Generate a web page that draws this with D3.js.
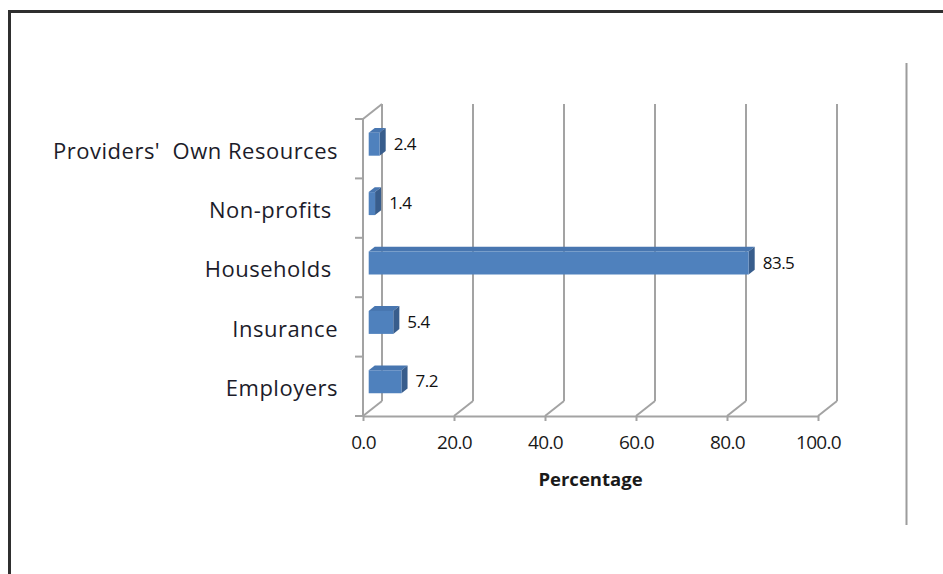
<!DOCTYPE html>
<html>
<head>
<meta charset="utf-8">
<script src="https://cdn.jsdelivr.net/npm/d3@7"></script>
<style>
  body { margin: 0; background: #fff; }
  svg { display: block; }
  text { font-family: "Open Sans", "DejaVu Sans", sans-serif; }
</style>
</head>
<body>
<svg id="chart" width="943" height="574"></svg>
<script>
// Funding sources, listed top to bottom
const categories = ["Providers'  Own Resources", "Non-profits ", "Households ", "Insurance", "Employers"];
const shares = [2.4, 1.4, 83.5, 5.4, 7.2];
const xTicks = [0, 20, 40, 60, 80, 100];
const xTitle = "Percentage";

const svg = d3.select("#chart");

// Plot box (front plane) and the oblique depth used for the 3-D look
const plotLeft = 363, plotRight = 818, plotTop = 119, plotFloor = 416;
const DX = 19, DY = 15;             // offset of the back plane
const zFront = 0.3, zBack = 0.62;   // depth slice occupied by the bars
const proj = (px, py, z) => [px + z * DX, py - z * DY];

const x = d3.scaleLinear().domain([0, 100]).range([plotLeft, plotRight]);
const y = d3.scaleBand().domain(categories).range([plotTop, plotFloor]).paddingInner(0).paddingOuter(0);

const gridColor = "#a3a3a3";

// Outer frame
svg.append("path")
  .attr("d", "M9.5,574 V11.5 H943")
  .attr("fill", "none").attr("stroke", "#2f2f2f").attr("stroke-width", 3);

// Divider on the right
svg.append("line")
  .attr("x1", 906.5).attr("x2", 906.5).attr("y1", 63).attr("y2", 525)
  .attr("stroke", "#9c9c9c").attr("stroke-width", 2);

const walls = svg.append("g").attr("fill", "none").attr("stroke", gridColor).attr("stroke-width", 2);

// Back wall gridlines and floor diagonals
xTicks.forEach(t => {
  const [bx, by0] = proj(x(t), plotFloor, 1);
  const [, by1] = proj(x(t), plotTop, 1);
  walls.append("line").attr("x1", bx).attr("x2", bx).attr("y1", by0).attr("y2", by1);
  walls.append("line").attr("x1", x(t)).attr("y1", plotFloor).attr("x2", bx).attr("y2", by0);
});

// Left side wall: front edge and top diagonal
walls.append("line").attr("x1", plotLeft).attr("x2", plotLeft).attr("y1", plotTop).attr("y2", plotFloor);
{
  const [tx, ty] = proj(plotLeft, plotTop, 1);
  walls.append("line").attr("x1", plotLeft).attr("y1", plotTop).attr("x2", tx).attr("y2", ty);
}

// Category boundary ticks on the left wall
const bounds = categories.map(c => y(c)).concat([plotFloor]);
bounds.forEach(b => {
  walls.append("line").attr("x1", plotLeft - 8).attr("x2", plotLeft).attr("y1", b).attr("y2", b);
});

// Value axis along the front edge of the floor
const xAxis = svg.append("g")
  .attr("transform", `translate(0,${plotFloor})`)
  .call(d3.axisBottom(x).tickValues(xTicks).tickFormat(d3.format(".1f")).tickSize(5).tickSizeOuter(0).tickPadding(15));
xAxis.select(".domain").attr("stroke", gridColor).attr("stroke-width", 2);
xAxis.selectAll(".tick line").attr("stroke", gridColor).attr("stroke-width", 2);
xAxis.selectAll(".tick text")
  .attr("font-size", 19).attr("fill", "#1a1a1a").attr("font-family", "\"Open Sans\", sans-serif")
  .attr("letter-spacing", -0.7);

// Category labels
const yAxis = svg.append("g")
  .attr("transform", `translate(${plotLeft},0)`)
  .call(d3.axisLeft(y).tickSize(0).tickPadding(25));
yAxis.select(".domain").remove();
yAxis.selectAll(".tick")
  .attr("transform", d => `translate(0,${y(d) + y.bandwidth() / 2})`);
yAxis.selectAll(".tick text")
  .attr("font-size", 22).attr("fill", "#1c1c2a").attr("font-family", "\"Open Sans\", sans-serif")
  .attr("letter-spacing", 0.5)
  .attr("dy", "0.45em")
  .style("white-space", "pre");

// Axis title
svg.append("text")
  .attr("x", (plotLeft + plotRight) / 2 + 0).attr("y", 486)
  .attr("text-anchor", "middle")
  .attr("font-size", 18.5).attr("font-weight", "bold").attr("fill", "#1a1a1a")
  .text(xTitle);

// 3-D bars
const barH = 23;
const bars = svg.append("g");
const pts = a => a.map(p => p.join(",")).join(" ");
categories.forEach((c, i) => {
  const v = shares[i];
  const yc = y(c) + y.bandwidth() / 2;
  const yt = yc - barH / 2, yb = yc + barH / 2;
  const x0 = x(0), x1 = x(v);
  // top face
  bars.append("polygon")
    .attr("points", pts([proj(x0, yt, zFront), proj(x1, yt, zFront), proj(x1, yt, zBack), proj(x0, yt, zBack)]))
    .attr("fill", "#4876b0");
  // end face
  bars.append("polygon")
    .attr("points", pts([proj(x1, yt, zFront), proj(x1, yt, zBack), proj(x1, yb, zBack), proj(x1, yb, zFront)]))
    .attr("fill", "#385d8c");
  // front face
  bars.append("polygon")
    .attr("points", pts([proj(x0, yt, zFront), proj(x1, yt, zFront), proj(x1, yb, zFront), proj(x0, yb, zFront)]))
    .attr("fill", "#4f81bd");
  // value label
  const [lx] = proj(x1, yc, zBack);
  const [, ly] = proj(x1, yc, zFront);
  bars.append("text")
    .attr("x", lx + 8).attr("y", ly - 1)
    .attr("dominant-baseline", "central")
    .attr("font-size", 17).attr("fill", "#111")
    .attr("letter-spacing", -0.5)
    .text(d3.format(".1f")(v));
});
</script>
</body>
</html>
